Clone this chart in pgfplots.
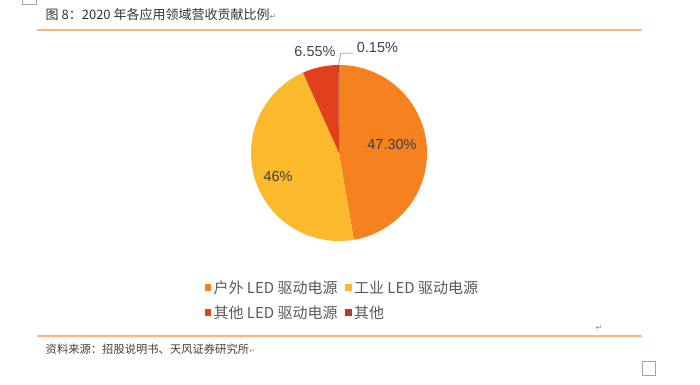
\documentclass[border=0pt]{standalone}
\usepackage{pgfplots}
\usepackage{pgfplotstable}
\pgfplotsset{compat=1.18}
\usepackage{fontspec}
\setmainfont{Liberation Sans}
\newfontfamily\cjk{Noto Sans CJK SC}
\newfontfamily\sym{DejaVu Sans}
\definecolor{cA}{HTML}{F5821F}
\definecolor{cB}{HTML}{FBBA2B}
\definecolor{cC}{HTML}{E1401D}
\definecolor{cD}{HTML}{B83A2D}
\definecolor{rule}{HTML}{FAB67E}
\definecolor{titlegray}{HTML}{333333}
\definecolor{labgray}{HTML}{404040}
\definecolor{leggray}{HTML}{595959}
\definecolor{markgray}{HTML}{8C8C8C}

\pgfplotstableread{
label value
outdoor 47.30
industrial 46
otherLED 6.55
other 0.15
}\piedata

\begin{document}%
\begin{tikzpicture}
\pgfplotstablegetelem{0}{value}\of\piedata\edef\vA{\pgfplotsretval}
\pgfplotstablegetelem{1}{value}\of\piedata\edef\vB{\pgfplotsretval}
\pgfplotstablegetelem{2}{value}\of\piedata\edef\vC{\pgfplotsretval}
\pgfplotstablegetelem{3}{value}\of\piedata\edef\vD{\pgfplotsretval}
\pgfmathsetmacro\sA{90}
\pgfmathsetmacro\eA{\sA-3.6*\vA}
\pgfmathsetmacro\eB{\eA-3.6*\vB}
\pgfmathsetmacro\eC{\eB-3.6*\vC}
\pgfmathsetmacro\eD{\eC-3.6*\vD}
\path[use as bounding box] (0pt,0pt) rectangle (700pt,384pt);
% rules
\draw[rule, line width=1.6pt] (36.7pt,354.3pt) -- (641.7pt,354.3pt);
\draw[rule, line width=1.6pt] (36.7pt,48.3pt) -- (641.7pt,48.3pt);
% title
\node[anchor=west, inner sep=0pt, text=titlegray, font=\cjk\fontsize{13}{15}\selectfont] at (45.5pt,369.3pt) {图 8：2020 年各应用领域营收贡献比例{\sym\fontsize{8}{9}\selectfont\color{markgray}↵}};
% source
\node[anchor=west, inner sep=0pt, text=labgray, font=\cjk\fontsize{11.3}{13}\selectfont] at (45.5pt,34.7pt) {资料来源：招股说明书、天风证券研究所{\sym\fontsize{7}{8}\selectfont\color{markgray}↵}};
\node[inner sep=0pt, text=markgray, font=\sym\fontsize{8}{9}\selectfont] at (599pt,56.3pt) {↵};
\draw[markgray!80, line width=0.8pt] (642pt,8.3pt) rectangle (655.7pt,22.3pt);
\begin{scope}
\clip (0pt,0pt) rectangle (700pt,384pt);
\draw[markgray!80, line width=0.8pt] (22.7pt,379.7pt) rectangle (36pt,390pt);
\end{scope}
\begin{axis}[
  at={(339pt,231pt)}, anchor=center,
  width=176pt, height=176pt, scale only axis,
  xmin=-1, xmax=1, ymin=-1, ymax=1,
  hide axis, clip=false,
  legend columns=2,
  legend cell align=left,
  legend image code/.code={\path[#1,draw=none] (0pt,-3pt) rectangle (6.5pt,3.5pt);},
  legend style={at={(axis description cs:-0.263,-0.225)}, anchor=north west,
    draw=none, fill=none, inner sep=0pt,
    font=\cjk\fontsize{15}{17}\selectfont, text=leggray,
    row sep=10.5pt,
    nodes={inner xsep=2.2pt, inner ysep=0pt},
    /tikz/every even column/.append style={column sep=5.5pt}},
]
\addplot[fill=cA, draw=none, domain=\eA:\sA, samples=120, variable=\t] ({cos(\t)},{sin(\t)}) -- (axis cs:0,0) -- cycle;
\addlegendentry{户外 LED 驱动电源}
\addplot[fill=cB, draw=none, domain=\eB:\eA, samples=120, variable=\t] ({cos(\t)},{sin(\t)}) -- (axis cs:0,0) -- cycle;
\addlegendentry{工业 LED 驱动电源}
\addplot[fill=cC, draw=none, domain=\eC:\eB, samples=30, variable=\t] ({cos(\t)},{sin(\t)}) -- (axis cs:0,0) -- cycle;
\addlegendentry{其他 LED 驱动电源}
\addplot[fill=cD, draw=none, domain=\eD:\eC, samples=5, variable=\t] ({cos(\t)},{sin(\t)}) -- (axis cs:0,0) -- cycle;
\addlegendentry{其他}
\addplot[color=black!35, line width=0.8pt, forget plot] coordinates {(-0.004,1.0) (0.02,1.133) (0.16,1.133)};
\node[text=labgray, inner sep=0pt, font=\fontsize{14.5}{17}\selectfont] at (axis cs:0.602,0.091) {47.30\%};
\node[text=labgray, inner sep=0pt, font=\fontsize{14.5}{17}\selectfont] at (axis cs:-0.693,-0.269) {46\%};
\node[text=labgray, inner sep=0pt, font=\fontsize{14.5}{17}\selectfont] at (axis cs:-0.273,1.159) {6.55\%};
\node[text=labgray, inner sep=0pt, anchor=west, font=\fontsize{14.5}{17}\selectfont] at (axis cs:0.201,1.199) {0.15\%};
\end{axis}
\end{tikzpicture}%
\end{document}
